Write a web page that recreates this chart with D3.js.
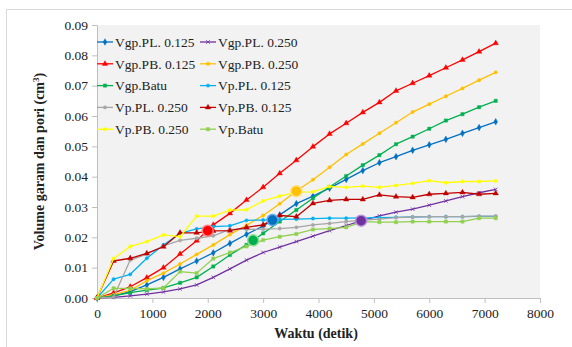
<!DOCTYPE html>
<html>
<head>
<meta charset="utf-8">
<script src="https://cdnjs.cloudflare.com/ajax/libs/d3/7.8.5/d3.min.js"></script>
<style>
    body { margin: 0; background: #fff; }
    svg text { font-family: "Times New Roman", "Liberation Serif", Tinos, "DejaVu Serif", serif; fill: #222; }
</style>
</head>
<body>
<div id="chart"></div>
<script>
// time (seconds), every 300 s
const times = d3.range(0, 7201, 300);

const vgpPL125 = [0, 0.0007, 0.0021, 0.0043, 0.0068, 0.0096, 0.0122, 0.0149, 0.018, 0.021, 0.0237, 0.0274, 0.0311, 0.0336, 0.0362, 0.0391, 0.042, 0.0446, 0.0466, 0.0487, 0.0505, 0.0523, 0.0543, 0.0562, 0.0581];
const vgpPL250 = [0, 0.0002, 0.0007, 0.0013, 0.002, 0.003, 0.0043, 0.0068, 0.0096, 0.0125, 0.015, 0.0168, 0.0186, 0.0204, 0.0222, 0.0239, 0.0256, 0.0271, 0.0283, 0.0293, 0.0306, 0.032, 0.0334, 0.0347, 0.0358];
const vgpPB125 = [0, 0.0017, 0.0037, 0.0067, 0.01, 0.0145, 0.0189, 0.0241, 0.0279, 0.0323, 0.0365, 0.0411, 0.0454, 0.0499, 0.0541, 0.0576, 0.0612, 0.0645, 0.0683, 0.0708, 0.0733, 0.0759, 0.0785, 0.0812, 0.084];
const vgpPB250 = [0, 0.0011, 0.0025, 0.0057, 0.0082, 0.0112, 0.0144, 0.0175, 0.0209, 0.024, 0.0272, 0.0311, 0.0353, 0.039, 0.0431, 0.0473, 0.0508, 0.0543, 0.0578, 0.0613, 0.0639, 0.0665, 0.0691, 0.0718, 0.0744];
const vgpBatu = [0, 0.0007, 0.0018, 0.0026, 0.0033, 0.005, 0.0068, 0.0104, 0.0142, 0.0175, 0.0213, 0.0252, 0.029, 0.0329, 0.0366, 0.0402, 0.0438, 0.0471, 0.0507, 0.0532, 0.0558, 0.0585, 0.0606, 0.0629, 0.065];
const vpPL125 = [0, 0.0062, 0.0078, 0.0131, 0.0175, 0.0213, 0.0228, 0.0235, 0.0238, 0.0256, 0.0257, 0.0259, 0.026, 0.0262, 0.0263, 0.0263, 0.0264, 0.0265, 0.0266, 0.0267, 0.0268, 0.0268, 0.0268, 0.0269, 0.0269];
const vpPL250 = [0, 0.0003, 0.0125, 0.0145, 0.0172, 0.019, 0.0197, 0.0205, 0.0226, 0.0226, 0.0227, 0.0229, 0.0233, 0.0241, 0.0246, 0.0252, 0.0257, 0.026, 0.0265, 0.0267, 0.0268, 0.0268, 0.0268, 0.027, 0.027];
const vpPB125 = [0, 0.0122, 0.0131, 0.0147, 0.0169, 0.0215, 0.0215, 0.0221, 0.0222, 0.0233, 0.0241, 0.0272, 0.0268, 0.0312, 0.0322, 0.0325, 0.0325, 0.034, 0.0334, 0.0332, 0.0342, 0.0345, 0.0348, 0.0342, 0.0345];
const vpPB250 = [0, 0.013, 0.017, 0.0186, 0.0208, 0.0202, 0.027, 0.027, 0.029, 0.0291, 0.032, 0.0336, 0.0349, 0.035, 0.0368, 0.0365, 0.0369, 0.0365, 0.0371, 0.0378, 0.0387, 0.038, 0.0384, 0.0384, 0.0386];
const vpBatu = [0, 0.0032, 0.0032, 0.003, 0.0033, 0.0087, 0.0082, 0.013, 0.015, 0.017, 0.0191, 0.0202, 0.0211, 0.0226, 0.0229, 0.0233, 0.0252, 0.025, 0.025, 0.0252, 0.0252, 0.0252, 0.0252, 0.0263, 0.0263];

// highlighted crossing points (Vgp = Vp)
const crossTimes = [2000, 3170, 3600, 2820, 4770];
const crossValues = [0.0222, 0.0257, 0.0352, 0.019, 0.0255];
const crossColors = ["#ff0000", "#0070c0", "#ffc000", "#00b050", "#7030a0"];
const crossRings = ["#ff8080", "#5fa8e8", "#ffe080", "#8fe08f", "#b58fd6"];

const xTicks = d3.range(0, 8001, 1000);
const yTicks = d3.range(0, 0.0901, 0.01);

const series = [
    { name: "Vgp.PL. 0.125", values: vgpPL125, color: "#0070c0", marker: "diamond" },
    { name: "Vgp.PL. 0.250", values: vgpPL250, color: "#7030a0", marker: "x" },
    { name: "Vgp.PB. 0.125", values: vgpPB125, color: "#ff0000", marker: "triangle" },
    { name: "Vgp.PB. 0.250", values: vgpPB250, color: "#ffc000", marker: "circle" },
    { name: "Vgp.Batu", values: vgpBatu, color: "#00b050", marker: "square" },
    { name: "Vp.PL. 0.125", values: vpPL125, color: "#00b0f0", marker: "circle" },
    { name: "Vp.PL. 0.250", values: vpPL250, color: "#a6a6a6", marker: "circle" },
    { name: "Vp.PB. 0.125", values: vpPB125, color: "#c00000", marker: "triangle" },
    { name: "Vp.PB. 0.250", values: vpPB250, color: "#ffff00", marker: "circle" },
    { name: "Vp.Batu", values: vpBatu, color: "#92d050", marker: "square" }
];

const width = 572, height = 347;
const margin = { left: 97, right: 32, top: 25, bottom: 49 };
const serif = '"Times New Roman", "Liberation Serif", Tinos, "DejaVu Serif", serif';

const svg = d3.select("#chart").append("svg")
    .attr("width", width)
    .attr("height", height)
    .attr("font-family", serif);

// outer frame
svg.append("rect")
    .attr("x", 6.5).attr("y", 9.5)
    .attr("width", 620).attr("height", 400)
    .attr("fill", "#fff")
    .attr("stroke", "#d9d9d9");

const x = d3.scaleLinear().domain([0, 8000]).range([margin.left, width - margin.right]);
const y = d3.scaleLinear().domain([0, 0.09]).range([height - margin.bottom, margin.top]);

// plot area
svg.append("rect")
    .attr("x", x(0)).attr("y", y(0.09))
    .attr("width", x(8000) - x(0)).attr("height", y(0) - y(0.09))
    .attr("fill", "#f2f2f2");

// axes
const xAxis = svg.append("g")
    .attr("transform", `translate(0,${y(0)})`)
    .call(d3.axisBottom(x).tickValues(xTicks).tickSize(5).tickSizeOuter(0).tickPadding(5).tickFormat(d3.format("d")));
const yAxis = svg.append("g")
    .attr("transform", `translate(${x(0)},0)`)
    .call(d3.axisLeft(y).tickValues(yTicks).tickSize(5).tickSizeOuter(0).tickPadding(4).tickFormat(d3.format(".2f")));

[xAxis, yAxis].forEach(a => {
    a.attr("font-family", serif).attr("font-size", 13.5);
    a.select(".domain").attr("stroke", "#bfbfbf");
    a.selectAll(".tick line").attr("stroke", "#bfbfbf");
    a.selectAll(".tick text").attr("fill", "#262626");
});

// axis titles
svg.append("text")
    .attr("x", 316).attr("y", 338)
    .attr("text-anchor", "middle")
    .style("font-size", "14px")
    .style("font-weight", "bold")
    .text("Waktu  (detik)");

const yTitle = svg.append("text")
    .attr("transform", `translate(44,${(y(0) + y(0.09)) / 2}) rotate(-90)`)
    .attr("text-anchor", "middle")
    .style("font-size", "14px")
    .style("font-weight", "bold");
yTitle.append("tspan").text("Volume garam dan pori (cm");
yTitle.append("tspan").attr("dy", -5).style("font-size", "9px").text("3");
yTitle.append("tspan").attr("dy", 5).text(")");

// marker path helper
function markerPath(type) {
    if (type === "triangle") return d3.symbol(d3.symbolTriangle, 13)();
    if (type === "square") return d3.symbol(d3.symbolSquare, 11)();
    if (type === "diamond") return d3.symbol(d3.symbolDiamond, 13)();
    if (type === "x") return "M-1.8,-1.8L1.8,1.8M-1.8,1.8L1.8,-1.8";
    return d3.symbol(d3.symbolCircle, 9)();
}

const line = d3.line()
    .x((d, i) => x(times[i]))
    .y(d => y(d));

const plot = svg.append("g");

series.forEach(s => {
    const g = plot.append("g");
    g.append("path")
        .datum(s.values)
        .attr("fill", "none")
        .attr("stroke", s.color)
        .attr("stroke-width", 1.3)
        .attr("stroke-linejoin", "round")
        .attr("d", line);

    g.selectAll("path.mk")
        .data(s.values)
        .join("path")
        .attr("class", "mk")
        .attr("transform", (d, i) => `translate(${x(times[i])},${y(d)})`)
        .attr("d", markerPath(s.marker))
        .attr("fill", s.color)
        .attr("stroke", s.color)
        .attr("stroke-width", s.marker === "x" ? 0.8 : 0.4);
});

// crossing points
plot.selectAll("circle.cross")
    .data(crossTimes)
    .join("circle")
    .attr("class", "cross")
    .attr("cx", d => x(d))
    .attr("cy", (d, i) => y(crossValues[i]))
    .attr("r", 5.5)
    .attr("fill", (d, i) => crossColors[i])
    .attr("stroke", (d, i) => crossRings[i])
    .attr("stroke-width", 1.5);

// legend
const legend = svg.append("g");
series.forEach((s, i) => {
    const col = i % 2, row = Math.floor(i / 2);
    const lx = col === 0 ? 97 : 200;
    const ly = 42 + row * 21.8;
    const item = legend.append("g").attr("transform", `translate(${lx},${ly})`);
    item.append("line")
        .attr("x1", 0).attr("x2", 16)
        .attr("stroke", s.color)
        .attr("stroke-width", 1.3);
    item.append("path")
        .attr("transform", "translate(8,0)")
        .attr("d", markerPath(s.marker))
        .attr("fill", s.color)
        .attr("stroke", s.color)
        .attr("stroke-width", s.marker === "x" ? 0.8 : 0.4);
    item.append("text")
        .attr("x", 18).attr("y", 0)
        .attr("dy", "0.35em")
        .style("font-size", "13.5px")
        .text(s.name);
});
</script>
</body>
</html>
